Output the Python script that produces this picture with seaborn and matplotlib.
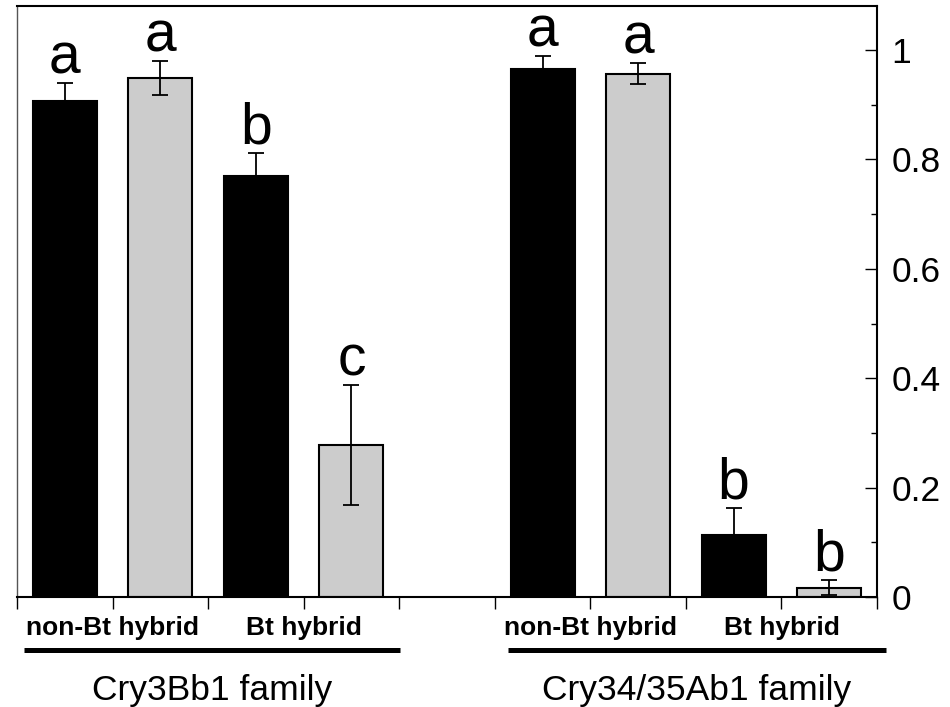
import numpy as np
import pandas as pd
import matplotlib
matplotlib.use("Agg")
import matplotlib.pyplot as plt
import matplotlib.transforms as mtransforms
from matplotlib.ticker import MultipleLocator, FixedLocator, FixedFormatter
import seaborn as sns

# ---------------- data ----------------
families = ["Cry3Bb1 family", "Cry3Bb1 family", "Cry3Bb1 family", "Cry3Bb1 family",
            "Cry34/35Ab1 family", "Cry34/35Ab1 family", "Cry34/35Ab1 family", "Cry34/35Ab1 family"]
hybrids = ["non-Bt hybrid", "non-Bt hybrid", "Bt hybrid", "Bt hybrid",
           "non-Bt hybrid", "non-Bt hybrid", "Bt hybrid", "Bt hybrid"]
treatments = ["black", "grey", "black", "grey", "black", "grey", "black", "grey"]
means = [0.906, 0.948, 0.770, 0.278, 0.965, 0.957, 0.114, 0.017]
errors = [0.034, 0.031, 0.042, 0.110, 0.024, 0.019, 0.048, 0.014]
letters = ["a", "a", "b", "c", "a", "a", "b", "b"]

slot_names = ["C3 nonBt black", "C3 nonBt grey", "C3 Bt black", "C3 Bt grey",
              "gap",
              "C34 nonBt black", "C34 nonBt grey", "C34 Bt black", "C34 Bt grey"]
bar_slots = [s for s in slot_names if s != "gap"]

hybrid_labels = ["non-Bt hybrid", "Bt hybrid", "non-Bt hybrid", "Bt hybrid"]
family_labels = ["Cry3Bb1 family", "Cry34/35Ab1 family"]
ytick_values = [0, 0.2, 0.4, 0.6, 0.8, 1.0]
ytick_labels = ["0", "0.2", "0.4", "0.6", "0.8", "1"]

df = pd.DataFrame({"slot": bar_slots, "family": families, "hybrid": hybrids,
                   "treatment": treatments, "mean": means, "err": errors,
                   "letter": letters})

# ---------------- plot ----------------
sns.set_theme(style="white")
plt.rcParams["font.family"] = ["Liberation Sans", "DejaVu Sans"]
plt.rcParams["text.color"] = "black"
plt.rcParams["xtick.color"] = "black"
plt.rcParams["ytick.color"] = "black"
plt.rcParams["xtick.labelcolor"] = "black"
plt.rcParams["ytick.labelcolor"] = "black"

fig = plt.figure(figsize=(9.5, 7.07), dpi=100)
ax = fig.add_axes([17 / 950, 110 / 707, 860 / 950, 591.3 / 707])

sns.barplot(data=df, x="slot", y="mean", hue="treatment", order=slot_names,
            palette={"black": "#000000", "grey": "#cccccc"}, dodge=False,
            width=0.67, edgecolor="black", linewidth=1.5, errorbar=None,
            legend=False, ax=ax, zorder=2)

pos = [slot_names.index(s) for s in df["slot"]]
ax.errorbar(pos, df["mean"], yerr=df["err"], fmt="none", ecolor="black",
            elinewidth=1.3, capsize=5.5, capthick=1.3, zorder=3)

for p, m, e, l in zip(pos, df["mean"], df["err"], df["letter"]):
    ax.annotate(l, (p, m + e), xytext=(0, 7), textcoords="offset points",
                ha="center", va="baseline", fontsize=41, color="black",
                zorder=4)

ax.set_xlim(-0.5, len(slot_names) - 0.5)
ax.set_ylim(0, 1.081)
ax.set_xlabel("")
ax.set_ylabel("")

# x ticks at slot boundaries; labels between bar pairs
bounds = list(np.arange(-0.5, len(slot_names), 1.0))
label_pos = {0.5: hybrid_labels[0], 2.5: hybrid_labels[1],
             5.5: hybrid_labels[2], 7.5: hybrid_labels[3]}
ax.xaxis.set_major_locator(FixedLocator(bounds))
ax.xaxis.set_major_formatter(FixedFormatter([label_pos.get(b, "") for b in bounds]))
ax.tick_params(axis="x", which="major", direction="out", length=8.5, width=1.0,
               color="black", bottom=True, pad=5, labelsize=19)
for t in ax.get_xticklabels():
    t.set_fontweight("bold")

# y axis on the right
ax.yaxis.tick_right()
ax.yaxis.set_major_locator(FixedLocator(ytick_values))
ax.yaxis.set_major_formatter(FixedFormatter(ytick_labels))
ax.yaxis.set_minor_locator(MultipleLocator(0.1))
ax.tick_params(axis="y", which="major", direction="in", length=8.5, width=1.0,
               color="black", right=True, left=False, pad=10.5, labelsize=25.5)
ax.tick_params(axis="y", which="minor", direction="in", length=4.5, width=1.0,
               color="black", right=True, left=False)

for side in ["top", "right", "bottom"]:
    ax.spines[side].set_color("black")
    ax.spines[side].set_linewidth(1.5)
ax.spines["left"].set_color("#555555")
ax.spines["left"].set_linewidth(1.0)

# family brackets and labels
trans = mtransforms.blended_transform_factory(ax.transData, ax.transAxes)
line_spans = [(-0.43, 3.51), (4.64, 8.59)]
for (x0, x1), lab in zip(line_spans, family_labels):
    ax.plot([x0, x1], [-0.0896, -0.0896], color="black", lw=3.6,
            transform=trans, clip_on=False, solid_capstyle="butt")
    ax.text((x0 + x1) / 2, -0.1735, lab, transform=trans, ha="center",
            va="baseline", fontsize=25.5, color="black")

fig.savefig("out.png", dpi=100)
